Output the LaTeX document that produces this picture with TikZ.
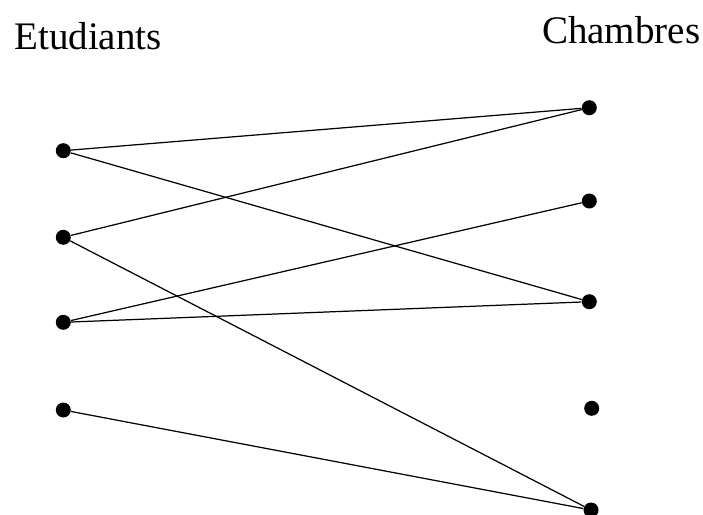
\documentclass[tikz,border=0pt]{standalone}
\usepackage{fontspec}
\setmainfont{Liberation Serif}
\tikzset{sommet/.style={circle, fill=black, inner sep=0pt, minimum size=0.3cm}}
\begin{document}
\begin{tikzpicture}[x=0.02cm, y=-0.02cm]
\useasboundingbox (0,0) rectangle (703,514);
\node [anchor=base west, inner sep=0pt, font=\fontsize{22.2}{26}\selectfont] (etud) at (14,49.3) {Etudiants};
\node [anchor=base west, inner sep=0pt, font=\fontsize{22.2}{26}\selectfont] (chamb) at (541.7,43.3) {Chambres};
\node [sommet] (e1) at (63.3,150.7) {};
\node [sommet] (e2) at (63.3,237.3) {};
\node [sommet] (e3) at (63.3,322.3) {};
\node [sommet] (e4) at (63.3,410) {};
\node [sommet] (c1) at (589.3,107.7) {};
\node [sommet] (c2) at (589.3,201) {};
\node [sommet] (c3) at (589.3,301.7) {};
\node [sommet] (c4) at (591.7,408.3) {};
\node [sommet] (c5) at (591,510) {};
\draw[line width=0.7pt] (e1) -- (c1);
\draw[line width=0.7pt] (e1) -- (c3);
\draw[line width=0.7pt] (e2) -- (c1);
\draw[line width=0.7pt] (e2) -- (c5);
\draw[line width=0.7pt] (e3) -- (c2);
\draw[line width=0.7pt] (e3) -- (c3);
\draw[line width=0.7pt] (e4) -- (c5);
\end{tikzpicture}
\end{document}
